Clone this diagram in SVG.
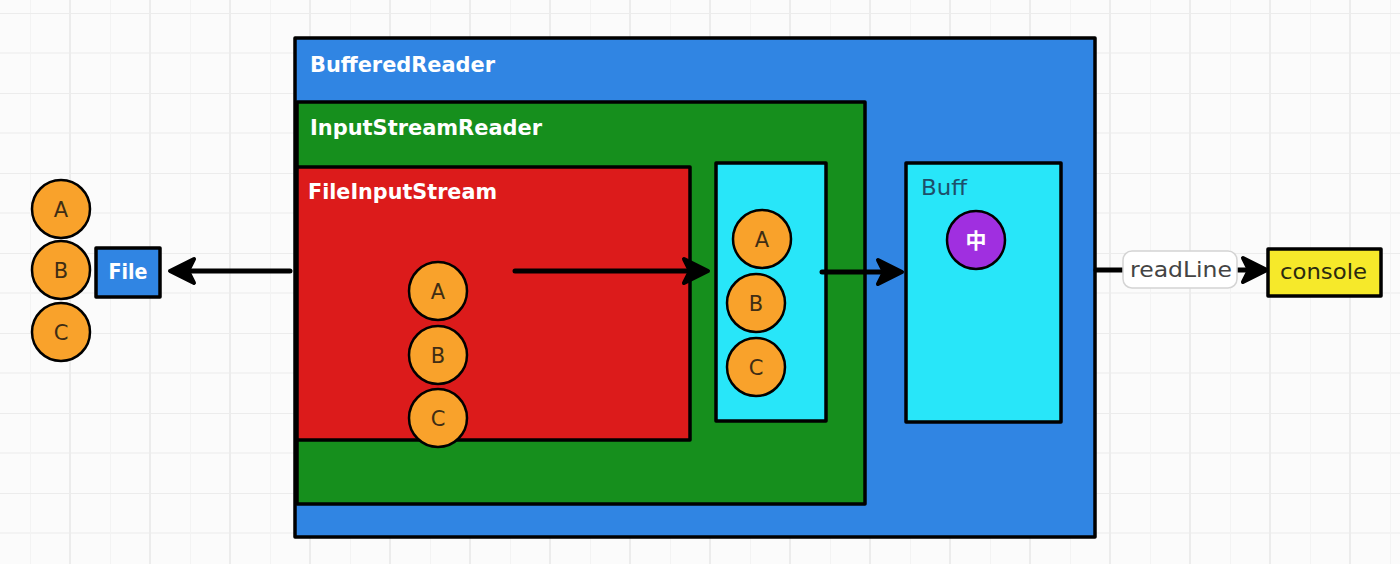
<svg xmlns="http://www.w3.org/2000/svg" width="1400" height="564" viewBox="0 0 1400 564">
  <defs>
    <pattern id="grid" x="30" y="13" width="80" height="80" patternUnits="userSpaceOnUse">
      <rect width="80" height="80" fill="#fbfbfb"/>
      <line x1="0" y1="0" x2="0" y2="80" stroke="#f3f3f3" stroke-width="2"/>
      <line x1="0" y1="40" x2="80" y2="40" stroke="#f3f3f3" stroke-width="2"/>
      <line x1="40" y1="0" x2="40" y2="80" stroke="#ececec" stroke-width="2"/>
      <line x1="0" y1="0" x2="80" y2="0" stroke="#ececec" stroke-width="2"/>
    </pattern>
    <marker id="arrow" viewBox="0 0 32 32" refX="18" refY="16" markerWidth="32" markerHeight="32" markerUnits="userSpaceOnUse" orient="auto">
      <path d="M4,4 L28,16 L4,28 L10,16 Z" fill="#000" stroke="#000" stroke-width="4" stroke-linejoin="round"/>
    </marker>
  </defs>
  <style>
    .box { stroke: #000; stroke-width: 3.5; stroke-linejoin: round; }
    .blue { fill: #3085e3; }
    .green { fill: #168f1d; }
    .red { fill: #dc1b1b; }
    .cyan { fill: #28e6f9; }
    .yellow { fill: #f6e92a; }
    .ball { fill: #f9a22b; stroke: #000; stroke-width: 2.5; }
    .purple { fill: #a02fe0; stroke: #000; stroke-width: 2.5; }
    .title { font-family: "DejaVu Sans", "Liberation Sans", sans-serif; font-size: 22px; font-weight: bold; fill: #ffffff; }
    .letter { font-family: "DejaVu Sans", "Liberation Sans", sans-serif; font-size: 21px; fill: #3f2d14; text-anchor: middle; }
    .plain { font-family: "DejaVu Sans", "Liberation Sans", sans-serif; font-size: 21px; }
    .conn { stroke: #000; stroke-width: 5; stroke-linecap: round; fill: none; }
  </style>

  <rect width="1400" height="564" fill="url(#grid)"/>

  <g id="bufferedReader">
    <rect class="box blue" x="295" y="38" width="800" height="499"/>
    <text class="title" x="310" y="72" textLength="185" lengthAdjust="spacingAndGlyphs">BufferedReader</text>
  </g>

  <g id="inputStreamReader">
    <rect class="box green" x="297" y="102" width="568" height="402"/>
    <text class="title" x="310" y="135" textLength="232" lengthAdjust="spacingAndGlyphs">InputStreamReader</text>
  </g>

  <g id="fileInputStream">
    <rect class="box red" x="297" y="167" width="393" height="273"/>
    <text class="title" x="308" y="199" textLength="189" lengthAdjust="spacingAndGlyphs">FileInputStream</text>
  </g>

  <g id="fisA"><circle class="ball" cx="438" cy="291" r="29"/><text class="letter" x="438" y="299">A</text></g>
  <g id="fisB"><circle class="ball" cx="438" cy="355" r="29"/><text class="letter" x="438" y="363">B</text></g>
  <g id="fisC"><circle class="ball" cx="438" cy="418" r="29"/><text class="letter" x="438" y="426">C</text></g>

  <g id="charBuffer">
    <rect class="box cyan" x="716" y="163" width="110" height="258"/>
  </g>
  <g id="cbA"><circle class="ball" cx="762" cy="239" r="29"/><text class="letter" x="762" y="247">A</text></g>
  <g id="cbB"><circle class="ball" cx="756" cy="303" r="29"/><text class="letter" x="756" y="311">B</text></g>
  <g id="cbC"><circle class="ball" cx="756" cy="367" r="29"/><text class="letter" x="756" y="375">C</text></g>

  <g id="buff">
    <rect class="box cyan" x="906" y="163" width="155" height="259"/>
    <text class="plain" x="921" y="195" fill="#1d4f6a" textLength="46" lengthAdjust="spacingAndGlyphs">Buff</text>
  </g>
  <g id="zhong">
    <circle class="purple" cx="976" cy="240" r="29"/>
    <text x="976" y="248" font-family="Noto Sans CJK SC, sans-serif" font-size="21" font-weight="bold" fill="#ffffff" text-anchor="middle">中</text>
  </g>

  <g id="file">
    <rect class="box blue" x="96" y="248" width="64" height="49"/>
    <text class="title" x="128" y="279" text-anchor="middle" textLength="39" lengthAdjust="spacingAndGlyphs">File</text>
  </g>
  <g id="fileA"><circle class="ball" cx="61" cy="209" r="29"/><text class="letter" x="61" y="217">A</text></g>
  <g id="fileB"><circle class="ball" cx="61" cy="270" r="29"/><text class="letter" x="61" y="278">B</text></g>
  <g id="fileC"><circle class="ball" cx="61" cy="332" r="29"/><text class="letter" x="61" y="340">C</text></g>

  <g id="console">
    <rect class="box yellow" x="1268" y="249" width="113" height="47"/>
    <text class="plain" x="1280" y="279" fill="#2a2a10" textLength="87" lengthAdjust="spacingAndGlyphs">console</text>
  </g>

  <g id="connectors">
    <line class="conn" x1="290" y1="271" x2="180" y2="271" marker-end="url(#arrow)"/>
    <line class="conn" x1="515" y1="271" x2="698" y2="271" marker-end="url(#arrow)"/>
    <line class="conn" x1="822" y1="272" x2="892" y2="272" marker-end="url(#arrow)"/>
    <line class="conn" x1="1096" y1="270" x2="1257" y2="270" marker-end="url(#arrow)"/>
    <g id="readLineLabel">
      <rect x="1123" y="251" width="114" height="37" rx="9" fill="#ffffff" stroke="#d4d4d4" stroke-width="1.5"/>
      <text class="plain" x="1130" y="277" fill="#444444" textLength="102" lengthAdjust="spacingAndGlyphs">readLine</text>
    </g>
  </g>
</svg>
